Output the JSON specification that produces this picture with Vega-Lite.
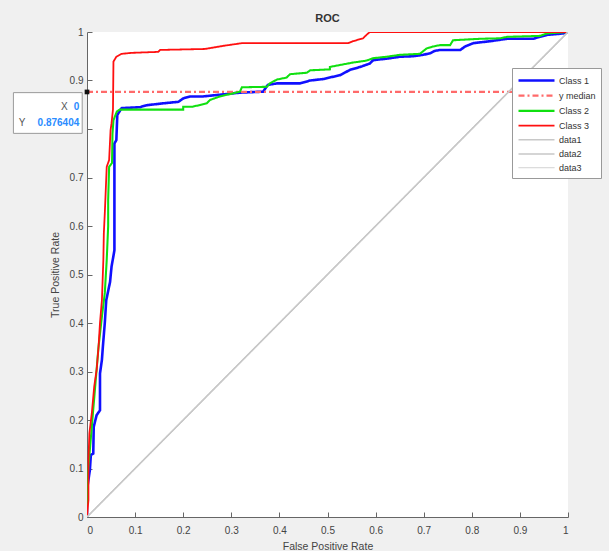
{
  "$schema": "https://vega.github.io/schema/vega-lite/v6.json",
  "width": 481,
  "height": 485,
  "autosize": {"type": "none"},
  "padding": {"left": 87, "top": 32, "right": 41, "bottom": 34},
  "background": "#f0f0f0",
  "view": {"fill": "white", "stroke": null},
  "title": {"text": "ROC", "fontSize": 11, "fontWeight": "bold", "font": "Liberation Sans", "color": "#333", "offset": 3, "anchor": "middle"},
  "config": {
    "font": "Liberation Sans",
    "axis": {"domainColor": "#666", "tickColor": "#666", "tickSize": -5, "labelColor": "#444", "labelFontSize": 10, "labelFont": "Liberation Sans", "titleFont": "Liberation Sans", "titleFontSize": 10.5, "titleFontWeight": "normal", "titleColor": "#444", "grid": false}
  },
  "datasets": {
    "roc": [
      {"s":"Class 1","i":0,"x":0,"y":0},{"s":"Class 1","i":1,"x":0,"y":0.056},{"s":"Class 1","i":2,"x":0.006,"y":0.097},{"s":"Class 1","i":3,"x":0.008,"y":0.128},{"s":"Class 1","i":4,"x":0.013,"y":0.131},{"s":"Class 1","i":5,"x":0.014,"y":0.186},{"s":"Class 1","i":6,"x":0.02,"y":0.21},{"s":"Class 1","i":7,"x":0.027,"y":0.22},{"s":"Class 1","i":8,"x":0.027,"y":0.296},{"s":"Class 1","i":9,"x":0.031,"y":0.324},{"s":"Class 1","i":10,"x":0.033,"y":0.351},{"s":"Class 1","i":11,"x":0.037,"y":0.4},{"s":"Class 1","i":12,"x":0.04,"y":0.447},{"s":"Class 1","i":13,"x":0.048,"y":0.485},{"s":"Class 1","i":14,"x":0.051,"y":0.516},{"s":"Class 1","i":15,"x":0.057,"y":0.55},{"s":"Class 1","i":16,"x":0.057,"y":0.77},{"s":"Class 1","i":17,"x":0.061,"y":0.777},{"s":"Class 1","i":18,"x":0.063,"y":0.829},{"s":"Class 1","i":19,"x":0.072,"y":0.843},{"s":"Class 1","i":20,"x":0.11,"y":0.845},{"s":"Class 1","i":21,"x":0.124,"y":0.849},{"s":"Class 1","i":22,"x":0.159,"y":0.853},{"s":"Class 1","i":23,"x":0.19,"y":0.856},{"s":"Class 1","i":24,"x":0.2,"y":0.863},{"s":"Class 1","i":25,"x":0.214,"y":0.867},{"s":"Class 1","i":26,"x":0.24,"y":0.867},{"s":"Class 1","i":27,"x":0.318,"y":0.875},{"s":"Class 1","i":28,"x":0.366,"y":0.877},{"s":"Class 1","i":29,"x":0.376,"y":0.891},{"s":"Class 1","i":30,"x":0.395,"y":0.894},{"s":"Class 1","i":31,"x":0.443,"y":0.894},{"s":"Class 1","i":32,"x":0.464,"y":0.9},{"s":"Class 1","i":33,"x":0.491,"y":0.903},{"s":"Class 1","i":34,"x":0.526,"y":0.911},{"s":"Class 1","i":35,"x":0.547,"y":0.922},{"s":"Class 1","i":36,"x":0.568,"y":0.928},{"s":"Class 1","i":37,"x":0.588,"y":0.935},{"s":"Class 1","i":38,"x":0.595,"y":0.942},{"s":"Class 1","i":39,"x":0.623,"y":0.945},{"s":"Class 1","i":40,"x":0.651,"y":0.949},{"s":"Class 1","i":41,"x":0.678,"y":0.95},{"s":"Class 1","i":42,"x":0.699,"y":0.953},{"s":"Class 1","i":43,"x":0.713,"y":0.956},{"s":"Class 1","i":44,"x":0.723,"y":0.961},{"s":"Class 1","i":45,"x":0.734,"y":0.963},{"s":"Class 1","i":46,"x":0.776,"y":0.963},{"s":"Class 1","i":47,"x":0.786,"y":0.97},{"s":"Class 1","i":48,"x":0.803,"y":0.977},{"s":"Class 1","i":49,"x":0.838,"y":0.981},{"s":"Class 1","i":50,"x":0.873,"y":0.986},{"s":"Class 1","i":51,"x":0.927,"y":0.986},{"s":"Class 1","i":52,"x":0.942,"y":0.99},{"s":"Class 1","i":53,"x":0.956,"y":0.994},{"s":"Class 1","i":54,"x":0.99,"y":0.997},{"s":"Class 1","i":55,"x":1,"y":1},
      {"s":"y median","i":0,"x":0,"y":0.876404},{"s":"y median","i":1,"x":1,"y":0.876404},
      {"s":"Class 2","i":0,"x":0,"y":0},{"s":"Class 2","i":1,"x":0,"y":0.07},{"s":"Class 2","i":2,"x":0.003,"y":0.104},{"s":"Class 2","i":3,"x":0.01,"y":0.186},{"s":"Class 2","i":4,"x":0.017,"y":0.269},{"s":"Class 2","i":5,"x":0.024,"y":0.351},{"s":"Class 2","i":6,"x":0.031,"y":0.413},{"s":"Class 2","i":7,"x":0.037,"y":0.462},{"s":"Class 2","i":8,"x":0.041,"y":0.53},{"s":"Class 2","i":9,"x":0.044,"y":0.6},{"s":"Class 2","i":10,"x":0.044,"y":0.654},{"s":"Class 2","i":11,"x":0.046,"y":0.722},{"s":"Class 2","i":12,"x":0.052,"y":0.73},{"s":"Class 2","i":13,"x":0.053,"y":0.79},{"s":"Class 2","i":14,"x":0.055,"y":0.818},{"s":"Class 2","i":15,"x":0.062,"y":0.836},{"s":"Class 2","i":16,"x":0.068,"y":0.84},{"s":"Class 2","i":17,"x":0.2,"y":0.84},{"s":"Class 2","i":18,"x":0.2,"y":0.846},{"s":"Class 2","i":19,"x":0.22,"y":0.846},{"s":"Class 2","i":20,"x":0.249,"y":0.853},{"s":"Class 2","i":21,"x":0.256,"y":0.86},{"s":"Class 2","i":22,"x":0.276,"y":0.867},{"s":"Class 2","i":23,"x":0.318,"y":0.877},{"s":"Class 2","i":24,"x":0.322,"y":0.886},{"s":"Class 2","i":25,"x":0.374,"y":0.887},{"s":"Class 2","i":26,"x":0.38,"y":0.894},{"s":"Class 2","i":27,"x":0.395,"y":0.902},{"s":"Class 2","i":28,"x":0.415,"y":0.906},{"s":"Class 2","i":29,"x":0.422,"y":0.913},{"s":"Class 2","i":30,"x":0.457,"y":0.916},{"s":"Class 2","i":31,"x":0.464,"y":0.921},{"s":"Class 2","i":32,"x":0.505,"y":0.923},{"s":"Class 2","i":33,"x":0.505,"y":0.928},{"s":"Class 2","i":34,"x":0.526,"y":0.932},{"s":"Class 2","i":35,"x":0.553,"y":0.937},{"s":"Class 2","i":36,"x":0.581,"y":0.941},{"s":"Class 2","i":37,"x":0.595,"y":0.946},{"s":"Class 2","i":38,"x":0.623,"y":0.949},{"s":"Class 2","i":39,"x":0.651,"y":0.953},{"s":"Class 2","i":40,"x":0.692,"y":0.955},{"s":"Class 2","i":41,"x":0.706,"y":0.966},{"s":"Class 2","i":42,"x":0.719,"y":0.97},{"s":"Class 2","i":43,"x":0.734,"y":0.973},{"s":"Class 2","i":44,"x":0.755,"y":0.973},{"s":"Class 2","i":45,"x":0.761,"y":0.983},{"s":"Class 2","i":46,"x":0.817,"y":0.986},{"s":"Class 2","i":47,"x":0.859,"y":0.987},{"s":"Class 2","i":48,"x":0.873,"y":0.99},{"s":"Class 2","i":49,"x":0.942,"y":0.992},{"s":"Class 2","i":50,"x":0.956,"y":0.997},{"s":"Class 2","i":51,"x":1,"y":1},
      {"s":"Class 3","i":0,"x":0,"y":0},{"s":"Class 3","i":1,"x":0.003,"y":0.035},{"s":"Class 3","i":2,"x":0.003,"y":0.118},{"s":"Class 3","i":3,"x":0.005,"y":0.173},{"s":"Class 3","i":4,"x":0.01,"y":0.214},{"s":"Class 3","i":5,"x":0.015,"y":0.269},{"s":"Class 3","i":6,"x":0.02,"y":0.303},{"s":"Class 3","i":7,"x":0.024,"y":0.351},{"s":"Class 3","i":8,"x":0.027,"y":0.4},{"s":"Class 3","i":9,"x":0.031,"y":0.447},{"s":"Class 3","i":10,"x":0.034,"y":0.53},{"s":"Class 3","i":11,"x":0.035,"y":0.585},{"s":"Class 3","i":12,"x":0.037,"y":0.626},{"s":"Class 3","i":13,"x":0.041,"y":0.722},{"s":"Class 3","i":14,"x":0.046,"y":0.736},{"s":"Class 3","i":15,"x":0.049,"y":0.798},{"s":"Class 3","i":16,"x":0.051,"y":0.812},{"s":"Class 3","i":17,"x":0.054,"y":0.84},{"s":"Class 3","i":18,"x":0.055,"y":0.939},{"s":"Class 3","i":19,"x":0.061,"y":0.949},{"s":"Class 3","i":20,"x":0.072,"y":0.955},{"s":"Class 3","i":21,"x":0.093,"y":0.957},{"s":"Class 3","i":22,"x":0.148,"y":0.959},{"s":"Class 3","i":23,"x":0.152,"y":0.963},{"s":"Class 3","i":24,"x":0.245,"y":0.965},{"s":"Class 3","i":25,"x":0.287,"y":0.972},{"s":"Class 3","i":26,"x":0.322,"y":0.977},{"s":"Class 3","i":27,"x":0.543,"y":0.977},{"s":"Class 3","i":28,"x":0.553,"y":0.981},{"s":"Class 3","i":29,"x":0.574,"y":0.987},{"s":"Class 3","i":30,"x":0.581,"y":0.994},{"s":"Class 3","i":31,"x":0.588,"y":1},{"s":"Class 3","i":32,"x":1,"y":1},
      {"s":"data1","i":0,"x":0,"y":0},{"s":"data1","i":1,"x":1,"y":1},
      {"s":"data2","i":0,"x":0,"y":0},{"s":"data2","i":1,"x":1,"y":1},
      {"s":"data3","i":0,"x":0,"y":0},{"s":"data3","i":1,"x":1,"y":1}
    ],
    "tip": [{"px": 0, "py": 0.876404, "xl": "X", "xv": "0", "yl": "Y", "yv": "0.876404"}]
  },
  "layer": [
    {
      "data": {"name": "roc"},
      "mark": {"type": "line", "clip": true},
      "encoding": {
        "x": {"field": "x", "type": "quantitative", "scale": {"domain": [0, 1], "nice": false, "zero": false},
              "axis": {"title": "False Positive Rate", "values": [0,0.1,0.2,0.3,0.4,0.5,0.6,0.7,0.8,0.9,1], "format": ".1~f", "labelPadding": 13, "titleY": 29, "titleBaseline": "middle"}},
        "y": {"field": "y", "type": "quantitative", "scale": {"domain": [0, 1], "nice": false, "zero": false},
              "axis": {"title": "True Positive Rate", "values": [0,0.1,0.2,0.3,0.4,0.5,0.6,0.7,0.8,0.9,1], "format": ".1~f", "labelPadding": 9, "titleX": -32, "titleBaseline": "middle",
                       "labelExpr": "datum.value == 0.8 ? '' : datum.label"}},
        "order": {"field": "i", "type": "quantitative"},
        "color": {"field": "s", "type": "nominal",
          "scale": {"domain": ["Class 1","y median","Class 2","Class 3","data1","data2","data3"],
                    "range": ["#1010ff","#ff6a6a","#10e010","#ff1010","#c8c8c8","#c8c8c8","#c8c8c8"]},
          "legend": {"title": null, "orient": "none", "legendX": 425, "legendY": 36, "symbolType": "M-1,0H5", "symbolSize": 144,
                     "labelFontSize": 9, "labelColor": "#333", "labelFont": "Liberation Sans", "labelOffset": 27, "padding": 5, "rowPadding": 2.2,
                     "strokeColor": "#999", "fillColor": "white", "cornerRadius": 0,
                     "labelExpr": "datum.label == 'y median' ? '\u2007\u2007\u2007y median' : datum.label"}},
        "strokeDash": {"field": "s", "type": "nominal",
          "scale": {"domain": ["Class 1","y median","Class 2","Class 3","data1","data2","data3"],
                    "range": [[1,0],[6,3,2,3],[1,0],[1,0],[1,0],[1,0],[1,0]]},
          "legend": {"title": null}},
        "strokeWidth": {"field": "s", "type": "nominal",
          "scale": {"domain": ["Class 1","y median","Class 2","Class 3","data1","data2","data3"],
                    "range": [2.6,1,2.6,2.6,1.4,1.4,1.4]},
          "legend": {"title": null}}
      }
    },
    {
      "data": {"name": "tip"},
      "mark": {"type": "rect", "fill": "white", "stroke": "#9a9a9a", "strokeWidth": 1},
      "encoding": {
        "x": {"datum": -0.153, "type": "quantitative"},
        "x2": {"datum": -0.01},
        "y": {"datum": 0.875, "type": "quantitative"},
        "y2": {"datum": 0.791}
      }
    },
    {
      "data": {"name": "tip"},
      "mark": {"type": "point", "shape": "square", "filled": true, "color": "#111", "size": 22, "opacity": 1},
      "encoding": {
        "x": {"field": "px", "type": "quantitative"},
        "y": {"field": "py", "type": "quantitative"}
      }
    },
    {
      "data": {"name": "tip"},
      "mark": {"type": "text", "align": "right", "baseline": "middle", "fontSize": 10, "color": "#555", "font": "Liberation Sans"},
      "encoding": {"x": {"datum": -0.04, "type": "quantitative"}, "y": {"datum": 0.845, "type": "quantitative"}, "text": {"field": "xl"}}
    },
    {
      "data": {"name": "tip"},
      "mark": {"type": "text", "align": "right", "baseline": "middle", "fontSize": 10, "fontWeight": "bold", "color": "#2a8cff", "font": "Liberation Sans"},
      "encoding": {"x": {"datum": -0.016, "type": "quantitative"}, "y": {"datum": 0.845, "type": "quantitative"}, "text": {"field": "xv"}}
    },
    {
      "data": {"name": "tip"},
      "mark": {"type": "text", "align": "right", "baseline": "middle", "fontSize": 10, "color": "#555", "font": "Liberation Sans"},
      "encoding": {"x": {"datum": -0.128, "type": "quantitative"}, "y": {"datum": 0.812, "type": "quantitative"}, "text": {"field": "yl"}}
    },
    {
      "data": {"name": "tip"},
      "mark": {"type": "text", "align": "right", "baseline": "middle", "fontSize": 10, "fontWeight": "bold", "color": "#2a8cff", "font": "Liberation Sans"},
      "encoding": {"x": {"datum": -0.016, "type": "quantitative"}, "y": {"datum": 0.812, "type": "quantitative"}, "text": {"field": "yv"}}
    }
  ]
}
